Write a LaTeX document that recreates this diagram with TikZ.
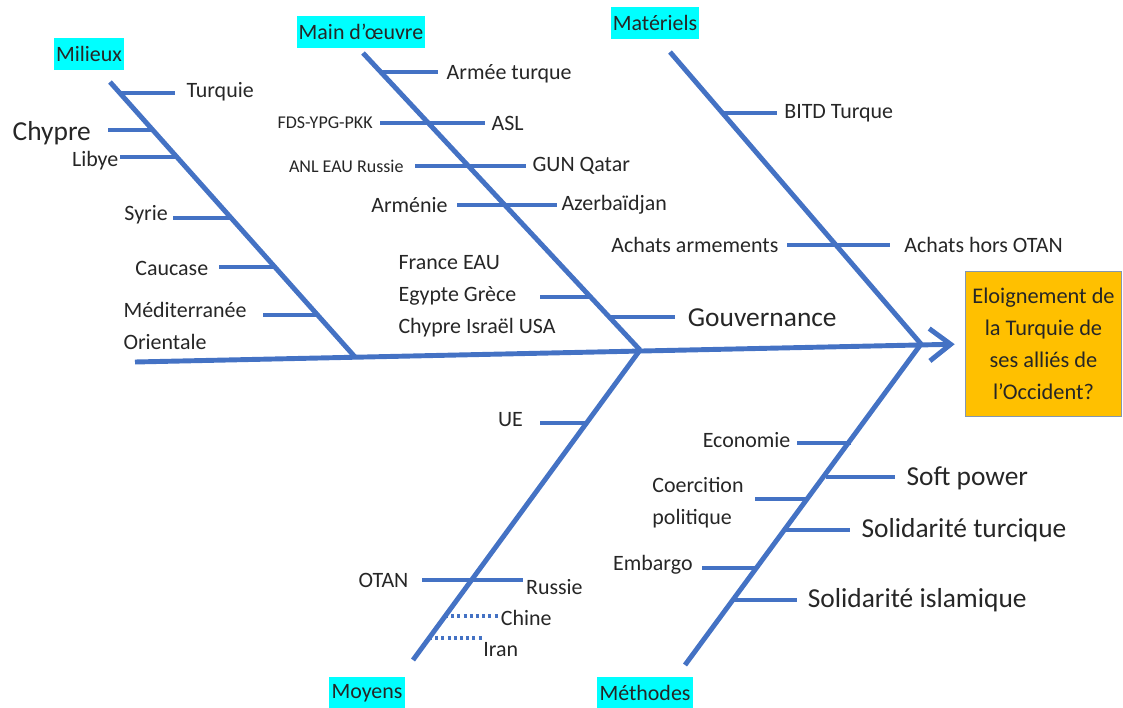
\documentclass[tikz,border=0pt]{standalone}
\usepackage{fontspec}
\setmainfont{Carlito}
\usepackage{xcolor}
\usepackage{tikz}
\usetikzlibrary{arrows.meta}
\definecolor{bone}{HTML}{4472C4}
\definecolor{ink}{HTML}{262626}
\definecolor{cathead}{HTML}{00FFFF}
\definecolor{goalfill}{HTML}{FFC000}
\definecolor{goalline}{HTML}{8497B0}

\begin{document}
\begin{tikzpicture}[
        x=0.025cm, y=-0.025cm,
        every node/.style={
            text=ink,
            inner sep=2pt,
            font=\fontsize{15.6}{18}\selectfont
        },
        big/.style={font=\fontsize{19.5}{23}\selectfont},
        small/.style={font=\fontsize{12.8}{15}\selectfont},
        block/.style={align=left, font=\fontsize{15.6}{22.7}\selectfont},
        lft/.style={anchor=east, inner xsep=#1},
        lft/.default=6pt,
        rgt/.style={anchor=west, inner xsep=#1},
        rgt/.default=6pt,
        cat/.style={fill=cathead, minimum height=0.78cm, inner xsep=1.5pt},
        goal/.style={
            fill=goalfill,
            draw=goalline,
            thick,
            align=center,
            minimum width=3.92cm,
            minimum height=3.62cm,
            font=\fontsize{15.9}{22.7}\selectfont
        },
        bonel/.style={draw=bone, line width=3.5pt},
        rib/.style={draw=bone, line width=2.8pt},
        weak/.style={draw=bone, line width=2.4pt, dash pattern=on 2.2pt off 2.2pt},
        arrow/.style={
            -{Straight Barb[length=15pt,width=23pt]},
            draw=bone,
            line width=3.5pt,
            shorten >=7pt
        }
    ]
        \useasboundingbox (0,0) rectangle (1123,708);

        % Headers
        \node[cat] (milieux) at (89,54) {Milieux};
        \node[cat] (mainoe) at (361,32) {Main d’œuvre};
        \node[cat] (materiels) at (655,23) {Matériels};
        \node[cat] (moyens) at (367,693) {Moyens};
        \node[cat] (methodes) at (645,693) {Méthodes};

        % Effect
        \node[goal] (goal) at (1043.5,344) {Eloignement de\\la Turquie de\\ses alliés de\\l’Occident?};

        % Spine and bones
        \coordinate (tail) at (135,362);
        \coordinate (milT) at (110,82);
        \coordinate (milB) at (355,357);
        \coordinate (moT) at (363,53);
        \coordinate (jl) at (640,350);
        \coordinate (moyB) at (413,660);
        \coordinate (matT) at (670,52);
        \coordinate (jr) at (921,344);
        \coordinate (metB) at (685,665);

        \draw[arrow] (tail) -- (goal.west);
        \draw[bonel] (milT) -- (milB);
        \draw[bonel] (moT) -- (jl);
        \draw[bonel] (jl) -- (moyB);
        \draw[bonel] (matT) -- (jr);
        \draw[bonel] (jr) -- (metB);

        % Milieux
        \coordinate (mil1) at (120,93);
        \coordinate (mil2) at (153,130);
        \coordinate (mil3) at (177,157);
        \coordinate (mil4) at (232,218);
        \coordinate (mil5) at (275,267);
        \coordinate (mil6) at (318,315);
        \coordinate (medE) at (263,315);
        \node[rgt=8pt] (tur) at (175,92) {Turquie};
        \node[lft=12pt, big] (chy) at (108,133) {Chypre};
        \node[lft=1pt] (lib) at (120,161) {Libye};
        \node[lft=3.5pt] (syr) at (173,215) {Syrie};
        \node[lft=7.5pt] (cau) at (219,268) {Caucase};
        \node[block] (med) at (185,326) {Méditerranée\\Orientale};

        \draw[rib] (mil1) -- (mil1 -| tur.west);
        \draw[rib] (mil2) -- (mil2 -| chy.east);
        \draw[rib] (mil3) -- (mil3 -| lib.east);
        \draw[rib] (mil4) -- (mil4 -| syr.east);
        \draw[rib] (mil5) -- (mil5 -| cau.east);
        \draw[rib] (mil6) -- (medE);

        % Main d'oeuvre
        \coordinate (mo1) at (381,72);
        \coordinate (mo5) at (591,297);
        \coordinate (mo6) at (609,317);
        \coordinate (egyE) at (540,297);
        \node[rgt] (armee) at (438,74) {Armée turque};
        \node[lft=5pt, small] (fds) at (380,123) {FDS-YPG-PKK};
        \node[rgt=4.5pt] (asl) at (485,123) {ASL};
        \node[lft=8pt, small] (anl) at (415,166) {ANL EAU Russie};
        \node[rgt=4.5pt] (gun) at (526,166) {GUN Qatar};
        \node[lft=6.5pt] (armen) at (457,205) {Arménie};
        \node[rgt=3pt] (azer) at (557,205) {Azerbaïdjan};
        \node[block] (egy) at (477,296) {France EAU\\Egypte Grèce\\Chypre Israël USA};
        \node[rgt=9pt, big] (gouv) at (675,318) {Gouvernance};

        \draw[rib] (mo1) -- (mo1 -| armee.west);
        \draw[rib] (fds.east) -- (asl.west);
        \draw[rib] (anl.east) -- (gun.west);
        \draw[rib] (armen.east) -- (azer.west);
        \draw[rib] (egyE) -- (mo5);
        \draw[rib] (mo6) -- (mo6 -| gouv.west);

        % Materiels
        \coordinate (mat1) at (722,113);
        \node[rgt=5pt] (bitd) at (777,113) {BITD Turque};
        \node[lft] (achA) at (787,245) {Achats armements};
        \node[rgt=10pt] (achH) at (890,245) {Achats hors OTAN};

        \draw[rib] (mat1) -- (mat1 -| bitd.west);
        \draw[rib] (achA.east) -- (achH.west);

        % Moyens
        \coordinate (moy1) at (587,423);
        \coordinate (moy3) at (445,616);
        \coordinate (moy4) at (429,638);
        \node[lft=12pt] (ue) at (540,420) {UE};
        \node[lft=9.5pt] (otan) at (422,580) {OTAN};
        \node[rgt=2pt] (rus) at (523,587) {Russie};
        \node[rgt=0.5pt] (chine) at (500,618) {Chine};
        \node[rgt=0pt] (iran) at (483,650) {Iran};

        \draw[rib] (moy1) -- (moy1 -| ue.east);
        \draw[rib] (otan.east) -- (otan.east -| rus.west);
        \draw[weak] (moy3) -- (moy3 -| chine.west);
        \draw[weak] (moy4) -- (moy4 -| iran.west);

        % Methodes
        \coordinate (me1) at (851,443);
        \coordinate (me2) at (826,477);
        \coordinate (me3) at (809,499);
        \coordinate (me4) at (786,530);
        \coordinate (me5) at (758,568);
        \coordinate (me6) at (734,600);
        \coordinate (coeE) at (755,499);
        \node[lft=4.5pt] (eco) at (797,440) {Economie};
        \node[rgt=8pt, big] (soft) at (895,478) {Soft power};
        \node[block] (coe) at (698,503) {Coercition\\politique};
        \node[rgt=8pt, big] (soltu) at (850,530) {Solidarité turcique};
        \node[lft=6.5pt] (emb) at (702,565) {Embargo};
        \node[rgt=7.5pt, big] (solis) at (797,600) {Solidarité islamique};

        \draw[rib] (me1) -- (me1 -| eco.east);
        \draw[rib] (me2) -- (me2 -| soft.west);
        \draw[rib] (me3) -- (coeE);
        \draw[rib] (me4) -- (me4 -| soltu.west);
        \draw[rib] (me5) -- (me5 -| emb.east);
        \draw[rib] (me6) -- (me6 -| solis.west);

    \end{tikzpicture}
\end{document}
